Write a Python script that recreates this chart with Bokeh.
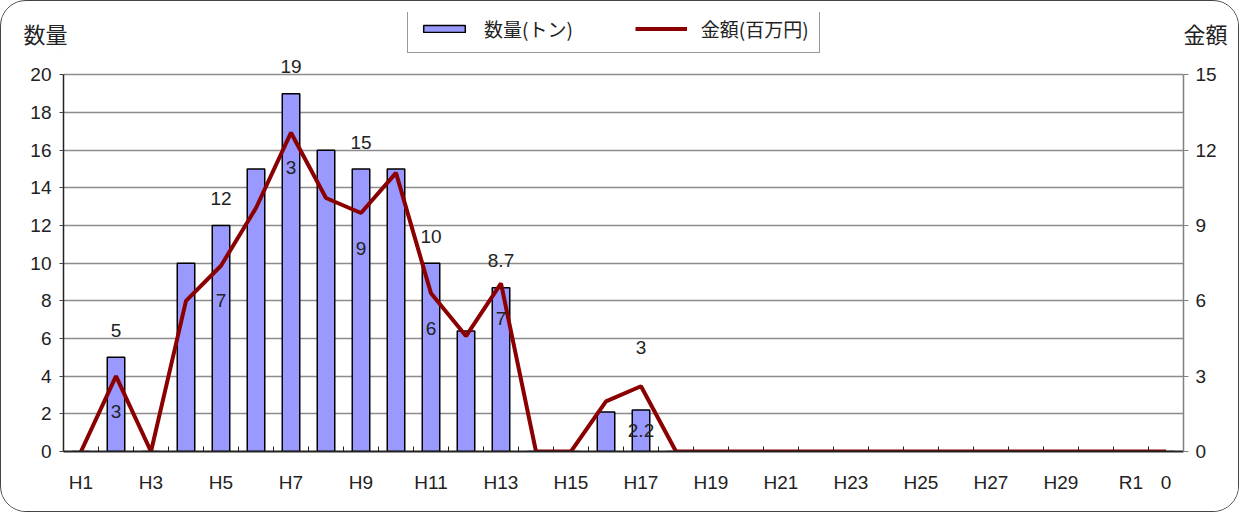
from bokeh.plotting import figure
from bokeh.layouts import column
from bokeh.models import (ColumnDataSource, Range1d, LinearAxis, FixedTicker,
                          Legend, LegendItem, LabelSet)
from bokeh.core.properties import value
from bokeh.embed import file_html
from bokeh.resources import INLINE

# ---- data ----
categories = [f"H{i}" for i in range(1, 31)] + ["R1", "R2"]
quantity = [0, 5, 0, 10, 12, 15, 19, 16, 15, 15, 10, 6.4, 8.7, 0, 0, 2.1, 2.2,
            0, 0, 0, 0, 0, 0, 0, 0, 0, 0, 0, 0, 0, 0, 0]
amount = [0, 3.0, 0, 6.0, 7.4, 9.7, 12.7, 10.1, 9.5, 11.1, 6.3, 4.6, 6.7, 0, 0, 2.0, 2.6,
          0, 0, 0, 0, 0, 0, 0, 0, 0, 0, 0, 0, 0, 0, 0]
bar_label_idx = [1, 4, 6, 8, 10, 12, 16]
bar_label_text = ["5", "12", "19", "15", "10", "8.7", "2.2"]
line_label_idx = [1, 4, 6, 8, 10, 12, 16]
line_label_text = ["3", "7", "3", "9", "6", "7", "3"]
end_label_idx = 31          # label of the last line point, shown under the axis
end_label_text = "0"
left_ticks = [0, 2, 4, 6, 8, 10, 12, 14, 16, 18, 20]
right_ticks = [0, 3, 6, 9, 12, 15]
series_names = ["数量(トン)", "金額(百万円)"]
axis_titles = ["数量", "金額"]

NUM_FONT = "Liberation Sans"
JP_FONT = "Noto Sans CJK JP"
TXT = "#222222"
BAR_FILL = "#9999FF"
LINE_COL = "#8B0000"
NUM_SIZE = "19px"

n = len(categories)
xs = list(range(n))
src = ColumnDataSource(dict(x=xs, q=quantity, a=amount))

W = 1237
BL, BR = 62, 55

# ---------------- header (legend + axis titles) ----------------
HEAD_H = 52
head = figure(width=W, height=HEAD_H, x_range=Range1d(0, 1), y_range=Range1d(0, 1),
              output_backend="svg", toolbar_location=None,
              min_border_left=BL, min_border_right=BR, min_border_top=11, min_border_bottom=0)
head.xaxis.visible = False
head.grid.visible = False
head.outline_line_color = None
head.border_fill_color = "white"


def title_axis(ax, text, standoff):
    ax.ticker = FixedTicker(ticks=[])
    ax.axis_line_color = None
    ax.major_tick_line_color = None
    ax.minor_tick_line_color = None
    ax.major_label_text_font_size = "0px"
    ax.axis_label = text
    ax.axis_label_orientation = "horizontal"
    ax.axis_label_standoff = standoff
    ax.axis_label_text_font = JP_FONT
    ax.axis_label_text_font_style = "normal"
    ax.axis_label_text_font_size = "22px"
    ax.axis_label_text_color = TXT


title_axis(head.yaxis[0], axis_titles[0], -4)
rax = LinearAxis()
title_axis(rax, axis_titles[1], 0)
head.add_layout(rax, "right")

# legend proxies: one point each, placed outside the visible header range
hb = head.vbar(x=[-10], top=[0], width=1, fill_color=BAR_FILL, line_color="black",
               line_width=1.5)
hl = head.line(x=[-10, -9], y=[0, 0], line_color=LINE_COL, line_width=4)
legend = Legend(items=[LegendItem(label=series_names[0], renderers=[hb]),
                       LegendItem(label=series_names[1], renderers=[hl])],
                orientation="horizontal", location=(344, 0))
legend.border_line_color = "#333333"
legend.border_line_width = 1.5
legend.background_fill_color = "white"
legend.margin = 0
legend.padding = 10
legend.spacing = 62
legend.glyph_width = 52
legend.glyph_height = 9
legend.label_height = 10
legend.label_standoff = 14
legend.label_text_font = JP_FONT
legend.label_text_font_size = "19px"
legend.label_text_color = TXT
legend.label_text_baseline = "middle"
head.add_layout(legend)

# ---------------- main chart ----------------
YTOP = 21.14
p = figure(width=W, height=510 - HEAD_H, x_range=Range1d(-0.5, n - 0.5),
           y_range=Range1d(0, YTOP),
           output_backend="svg", toolbar_location=None,
           min_border_left=BL, min_border_right=BR, min_border_top=0, min_border_bottom=60)
p.extra_y_ranges = {"amt": Range1d(0, YTOP * 0.75)}
p.outline_line_color = None
p.background_fill_color = "white"
p.border_fill_color = "white"

# grid
p.xgrid.visible = False
p.ygrid.ticker = FixedTicker(ticks=left_ticks)
p.ygrid.grid_line_color = "#8c8c8c"
p.ygrid.grid_line_width = 1.5

# left axis
ly = p.yaxis[0]
ly.ticker = FixedTicker(ticks=left_ticks)
ly.bounds = (0, 20)
ly.axis_line_color = "#222222"
ly.axis_line_width = 1.5
ly.major_tick_out = 4
ly.major_tick_in = 0
ly.major_tick_line_color = "#444444"
ly.minor_tick_line_color = None
ly.major_label_standoff = 8
ly.major_label_text_font = NUM_FONT
ly.major_label_text_font_size = NUM_SIZE
ly.major_label_text_color = TXT

# right axis
ry = LinearAxis(y_range_name="amt", ticker=FixedTicker(ticks=right_ticks), bounds=(0, 15))
ry.axis_line_color = "#808080"
ry.axis_line_width = 1.5
ry.major_tick_out = 5
ry.major_tick_in = 0
ry.major_tick_line_color = "#808080"
ry.minor_tick_line_color = None
ry.major_label_standoff = 7
ry.major_label_text_font = NUM_FONT
ry.major_label_text_font_size = NUM_SIZE
ry.major_label_text_color = TXT
p.add_layout(ry, "right")

# x axis (category labels every other year, plus the end-point data label)
xa = p.xaxis[0]
label_ticks = list(range(0, n, 2)) + [end_label_idx]
overrides = {i: categories[i] for i in range(0, n, 2)}
overrides[end_label_idx] = end_label_text
xa.ticker = FixedTicker(ticks=label_ticks, minor_ticks=[k - 0.5 for k in range(n + 1)])
xa.major_label_overrides = overrides
xa.major_tick_line_color = None
xa.minor_tick_in = 5
xa.minor_tick_out = 0
xa.minor_tick_line_color = "#222222"
xa.axis_line_color = "#222222"
xa.axis_line_width = 2
xa.major_label_standoff = 14
xa.major_label_text_font = NUM_FONT
xa.major_label_text_font_size = NUM_SIZE
xa.major_label_text_color = TXT

# glyphs
bars = p.vbar(x="x", top="q", width=0.5, source=src, fill_color=BAR_FILL,
              line_color="black", line_width=1.5)
line = p.line(x="x", y="a", source=src, y_range_name="amt", line_color=LINE_COL,
              line_width=4)

# data labels
bsrc = ColumnDataSource(dict(
    x=bar_label_idx, y=[quantity[i] for i in bar_label_idx], t=bar_label_text,
    off=[-20 if i == 16 else 27 for i in bar_label_idx]))
p.add_layout(LabelSet(x="x", y="y", text="t", y_offset="off", source=bsrc,
                      text_align="center", text_baseline="middle", level="overlay",
                      text_font=value(NUM_FONT), text_font_size=NUM_SIZE, text_color=TXT))
lsrc = ColumnDataSource(dict(
    x=line_label_idx, y=[amount[i] for i in line_label_idx], t=line_label_text,
    off=[39 if i == 16 else -35 for i in line_label_idx]))
p.add_layout(LabelSet(x="x", y="y", text="t", y_offset="off", source=lsrc,
                      y_range_name="amt", level="overlay",
                      text_align="center", text_baseline="middle",
                      text_font=value(NUM_FONT), text_font_size=NUM_SIZE, text_color=TXT))

layout = column(head, p, spacing=0)
layout.styles = {"border": "1.5px solid #444444", "border-radius": "26px", "overflow": "hidden"}

open("out.html", "w").write(file_html(layout, INLINE))
